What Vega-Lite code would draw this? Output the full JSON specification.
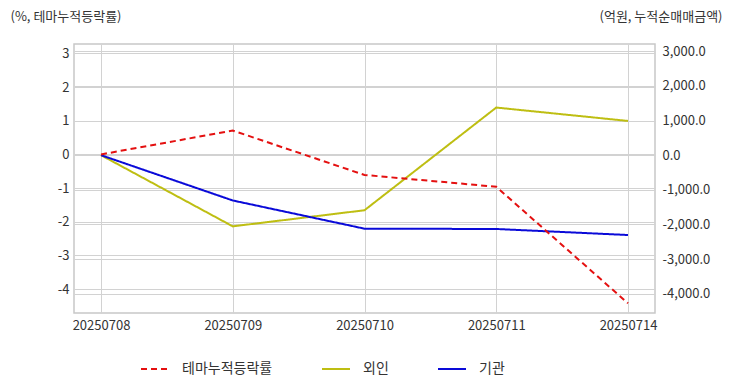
{
  "$schema": "https://vega.github.io/schema/vega-lite/v6.json",
  "width": 581,
  "height": 269,
  "autosize": {"type": "none"},
  "padding": {"left": 74, "top": 44, "right": 77, "bottom": 79},
  "background": "white",
  "config": {
    "font": "Noto Sans CJK KR",
    "view": {"stroke": "#c8c8c8", "strokeWidth": 1.5},
    "axis": {
      "labelFont": "Noto Sans CJK KR",
      "labelFontSize": 13,
      "labelColor": "#333333",
      "titleFont": "Noto Sans CJK KR",
      "titleFontSize": 13,
      "titleFontWeight": "normal",
      "titleColor": "#333333",
      "gridColor": "#d2d2d2",
      "gridWidth": 1,
      "gridOpacity": 1,
      "domain": false,
      "ticks": false
    },
    "legend": {
      "labelFont": "Noto Sans CJK KR",
      "labelFontSize": 14,
      "labelColor": "#333333"
    }
  },
  "data": {
    "values": [
      {"date": "20250708", "series": "테마누적등락률", "value": 0},
      {"date": "20250709", "series": "테마누적등락률", "value": 0.71},
      {"date": "20250710", "series": "테마누적등락률", "value": -0.61},
      {"date": "20250711", "series": "테마누적등락률", "value": -0.96},
      {"date": "20250714", "series": "테마누적등락률", "value": -4.42},
      {"date": "20250708", "series": "외인", "value": 0},
      {"date": "20250709", "series": "외인", "value": -2055},
      {"date": "20250710", "series": "외인", "value": -1590},
      {"date": "20250711", "series": "외인", "value": 1375},
      {"date": "20250714", "series": "외인", "value": 988},
      {"date": "20250708", "series": "기관", "value": 0},
      {"date": "20250709", "series": "기관", "value": -1308},
      {"date": "20250710", "series": "기관", "value": -2122},
      {"date": "20250711", "series": "기관", "value": -2131},
      {"date": "20250714", "series": "기관", "value": -2305}
    ]
  },
  "encoding": {
    "x": {
      "field": "date",
      "type": "ordinal",
      "sort": null,
      "scale": {"type": "point", "padding": 0.205},
      "axis": {"title": null, "labelAngle": 0, "labelPadding": 6, "grid": true}
    },
    "color": {
      "field": "series",
      "type": "nominal",
      "scale": {"domain": ["테마누적등락률", "외인", "기관"], "range": ["#e41010", "#bebe12", "#0a0ad8"]},
      "legend": {"orient": "none", "direction": "horizontal", "legendX": 66, "legendY": 310, "title": null, "symbolType": "stroke", "symbolSize": 784, "symbolStrokeWidth": 2, "labelOffset": 12, "columnPadding": 45}
    },
    "strokeDash": {
      "field": "series",
      "type": "nominal",
      "scale": {"domain": ["테마누적등락률", "외인", "기관"], "range": [[6, 4], [1, 0], [1, 0]]},
      "legend": {"orient": "none", "direction": "horizontal", "legendX": 66, "legendY": 310, "title": null, "symbolType": "stroke", "symbolSize": 784, "symbolStrokeWidth": 2, "labelOffset": 12, "columnPadding": 45}
    }
  },
  "layer": [
    {
      "transform": [{"filter": "datum.series !== '테마누적등락률'"}],
      "mark": {"type": "line", "strokeWidth": 2},
      "encoding": {
        "y": {
          "field": "value",
          "type": "quantitative",
          "scale": {"domain": [-4557, 3210], "nice": false, "zero": false},
          "axis": {
            "orient": "right",
            "values": [3000, 2000, 1000, 0, -1000, -2000, -3000, -4000],
            "format": ",.1f",
            "labelExpr": "replace(datum.label, '−', '-')",
            "labelPadding": 7,
            "grid": true,
            "title": "(억원, 누적순매매금액)",
            "titleAngle": 0,
            "titleX": 67,
            "titleY": -28,
            "titleAlign": "right",
            "titleBaseline": "middle"
          }
        }
      }
    },
    {
      "transform": [{"filter": "datum.series === '테마누적등락률'"}],
      "mark": {"type": "line", "strokeWidth": 2},
      "encoding": {
        "y": {
          "field": "value",
          "type": "quantitative",
          "scale": {"domain": [-4.71, 3.28], "nice": false, "zero": false},
          "axis": {
            "orient": "left",
            "values": [3, 2, 1, 0, -1, -2, -3, -4],
            "labelExpr": "replace(datum.label, '−', '-')",
            "labelPadding": 5,
            "grid": true,
            "title": "(%, 테마누적등락률)",
            "titleAngle": 0,
            "titleX": -64,
            "titleY": -28,
            "titleAlign": "left",
            "titleBaseline": "middle"
          }
        }
      }
    }
  ],
  "resolve": {"scale": {"y": "independent"}}
}
